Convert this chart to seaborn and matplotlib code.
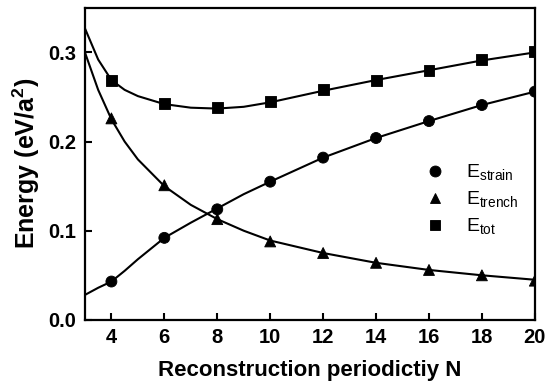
import pandas as pd
import seaborn as sns
import matplotlib.pyplot as plt

# Data points
N = [4, 6, 8, 10, 12, 14, 16, 18, 20]
e_strain = [0.043, 0.092, 0.124, 0.155, 0.182, 0.204, 0.223, 0.241, 0.256]
e_trench = [0.226, 0.151, 0.113, 0.088, 0.075, 0.064, 0.056, 0.050, 0.044]
e_tot = [0.269, 0.243, 0.238, 0.245, 0.258, 0.269, 0.280, 0.292, 0.301]

# Fitted curves
curve_N = [3, 3.5, 4, 4.5, 5, 6, 7, 8, 9, 10, 12, 14, 16, 18, 20]
curve_strain = [0.028, 0.036, 0.043, 0.055, 0.068, 0.092, 0.109, 0.125, 0.141,
                0.155, 0.182, 0.204, 0.223, 0.241, 0.256]
curve_trench = [0.300, 0.258, 0.225, 0.200, 0.180, 0.150, 0.129, 0.113, 0.100,
                0.089, 0.075, 0.064, 0.056, 0.050, 0.045]
curve_tot = [0.327, 0.292, 0.269, 0.258, 0.251, 0.242, 0.238, 0.237, 0.239,
             0.244, 0.257, 0.269, 0.280, 0.291, 0.300]

labels = [r"E$_{\rm strain}$", r"E$_{\rm trench}$", r"E$_{\rm tot}$"]
markers = ["o", "^", "s"]

sns.set_style("ticks", {"axes.edgecolor": "black", "text.color": "black",
                        "axes.labelcolor": "black", "xtick.color": "black",
                        "ytick.color": "black"})
plt.rcParams["font.family"] = ["Liberation Sans", "DejaVu Sans"]
plt.rcParams["mathtext.fontset"] = "custom"
plt.rcParams["mathtext.rm"] = "Liberation Sans"
plt.rcParams["mathtext.bf"] = "Liberation Sans:bold"

pts = pd.DataFrame({"N": N * 3,
                    "E": e_strain + e_trench + e_tot,
                    "kind": [labels[0]] * 9 + [labels[1]] * 9 + [labels[2]] * 9})
n_c = len(curve_N)
curves = pd.DataFrame({"N": curve_N * 3,
                       "E": curve_strain + curve_trench + curve_tot,
                       "kind": [labels[0]] * n_c + [labels[1]] * n_c + [labels[2]] * n_c})

fig = plt.figure(figsize=(5.48, 3.92), dpi=100)
ax = fig.add_axes([0.155, 0.184, 0.821, 0.796])

sns.lineplot(data=curves, x="N", y="E", units="kind", estimator=None,
             color="black", linewidth=1.5, ax=ax, legend=False)
sns.scatterplot(data=pts, x="N", y="E", style="kind", markers=dict(zip(labels, markers)),
                color="black", s=62, edgecolor="black", ax=ax)

ax.set_xlim(3, 20)
ax.set_ylim(0, 0.35)
ax.set_xticks([4, 6, 8, 10, 12, 14, 16, 18, 20])
ax.set_yticks([0.0, 0.1, 0.2, 0.3])
ax.set_yticklabels(["0.0", "0.1", "0.2", "0.3"])
ax.tick_params(direction="in", length=5, width=1.5, labelsize=14.5, pad=6,
               colors="black")
for lab in ax.get_xticklabels() + ax.get_yticklabels():
    lab.set_fontweight("bold")
for sp in ax.spines.values():
    sp.set_linewidth(1.6)
    sp.set_color("black")

ax.set_xlabel("Reconstruction periodictiy N", fontsize=16, fontweight="bold",
              labelpad=9, color="black")
ax.set_ylabel(r"Energy (eV/a$^{\mathbf{2}}$)", fontsize=18, fontweight="bold",
              labelpad=5, color="black")

leg = ax.legend(loc="upper left", bbox_to_anchor=(0.695, 0.56), frameon=False, fontsize=14,
                handletextpad=0.6, labelspacing=0.35, markerscale=1.0)
for t in leg.get_texts():
    t.set_color("black")

plt.savefig("out.png", dpi=100)
